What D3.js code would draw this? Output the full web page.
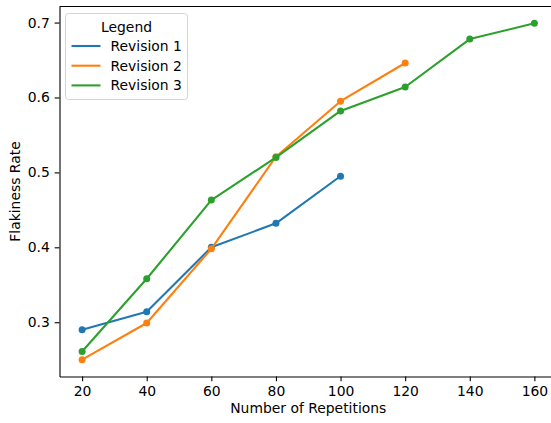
<!DOCTYPE html>
<html lang="en">
<head>
  <meta charset="UTF-8">
  <title>Flakiness Rate</title>
  <style>
    html, body {
      margin: 0;
      padding: 0;
      background: #fff;
      overflow: hidden;
    }
    svg {
      display: block;
      font-family: "DejaVu Sans", sans-serif;
    }
  </style>
</head>
<body>
  <svg width="551" height="423"></svg>
<script src="https://d3js.org/d3.v7.min.js"></script>
<script type="text/javascript">
  // data
  const revision1 = [[20, 0.290], [40, 0.314], [60, 0.400], [80, 0.432], [100, 0.495]]
  const revision2 = [[20, 0.250], [40, 0.299], [60, 0.398], [80, 0.521], [100, 0.595], [120, 0.646]]
  const revision3 = [[20, 0.261], [40, 0.358], [60, 0.463], [80, 0.520], [100, 0.582], [120, 0.614], [140, 0.678], [160, 0.699]]
  const seriesNames = ['Revision 1', 'Revision 2', 'Revision 3']
  const seriesColors = ['#1f77b4', '#ff7f0e', '#2ca02c']
  const xTicks = [20, 40, 60, 80, 100, 120, 140, 160]
  const yTicks = [0.3, 0.4, 0.5, 0.6, 0.7]

  const series = [revision1, revision2, revision3]

  const svg = d3.select('svg')
  const margin = { left: 59.5, top: 6.5, right: 557, bottom: 376.5 }

  const x = d3.scaleLinear().domain([13, 167]).range([margin.left, margin.right])
  const y = d3.scaleLinear().domain([0.22755, 0.72145]).range([margin.bottom, margin.top])

  // lines + markers
  const line = d3.line().x(d => x(d[0])).y(d => y(d[1]))

  series.forEach((s, i) => {
    svg.append('path')
      .datum(s)
      .attr('d', line)
      .attr('fill', 'none')
      .attr('stroke', seriesColors[i])
      .attr('stroke-width', 2.08)
      .attr('stroke-linejoin', 'round')
      .attr('stroke-linecap', 'square')

    svg.selectAll('circle.s' + i)
      .data(s)
      .enter()
      .append('circle')
      .attr('class', 's' + i)
      .attr('cx', d => x(d[0]))
      .attr('cy', d => y(d[1]))
      .attr('r', 3.5)
      .attr('fill', seriesColors[i])
  })

  // axes
  const xAxis = d3.axisBottom(x).tickValues(xTicks).tickSize(4.86).tickPadding(4.9).tickSizeOuter(0)
  const yAxis = d3.axisLeft(y).tickValues(yTicks).tickSize(4.86).tickPadding(4.9).tickSizeOuter(0)
    .tickFormat(d3.format('.1f'))

  const gx = svg.append('g').attr('transform', 'translate(0,' + margin.bottom + ')').call(xAxis)
  const gy = svg.append('g').attr('transform', 'translate(' + margin.left + ',0)').call(yAxis)

  ;[gx, gy].forEach(g => {
    g.selectAll('text').attr('font-size', 13.9).attr('font-family', '"DejaVu Sans", sans-serif').attr('fill', '#000')
    g.selectAll('line').attr('stroke', '#000').attr('stroke-width', 1.1)
    g.select('.domain').attr('stroke', '#000').attr('stroke-width', 1.1)
  })

  // top spine
  svg.append('line')
    .attr('x1', margin.left).attr('x2', margin.right)
    .attr('y1', margin.top).attr('y2', margin.top)
    .attr('stroke', '#000').attr('stroke-width', 1.1)

  // axis labels
  svg.append('text')
    .attr('x', (margin.left + margin.right) / 2)
    .attr('y', 413)
    .attr('text-anchor', 'middle')
    .attr('font-size', 13.9)
    .text('Number of Repetitions')

  svg.append('text')
    .attr('transform', 'translate(20,' + ((margin.top + margin.bottom) / 2) + ') rotate(-90)')
    .attr('text-anchor', 'middle')
    .attr('font-size', 13.9)
    .text('Flakiness Rate')

  // legend
  const legend = svg.append('g').attr('transform', 'translate(65.5,13.5)')
  legend.append('rect')
    .attr('width', 122).attr('height', 86)
    .attr('rx', 3)
    .attr('fill', 'rgba(255,255,255,0.8)')
    .attr('stroke', '#d5d5d5')
    .attr('stroke-width', 1)

  legend.append('text')
    .attr('x', 61).attr('y', 18)
    .attr('text-anchor', 'middle')
    .attr('font-size', 13.9)
    .text('Legend')

  seriesNames.forEach((name, i) => {
    const row = legend.append('g').attr('transform', 'translate(0,' + (32.5 + i * 19.7) + ')')
    row.append('line')
      .attr('x1', 6).attr('x2', 35)
      .attr('stroke', seriesColors[i])
      .attr('stroke-width', 2.08)
    row.append('text')
      .attr('x', 45).attr('y', 5)
      .attr('font-size', 13.9)
      .text(name)
  })
</script>
</body>
</html>
